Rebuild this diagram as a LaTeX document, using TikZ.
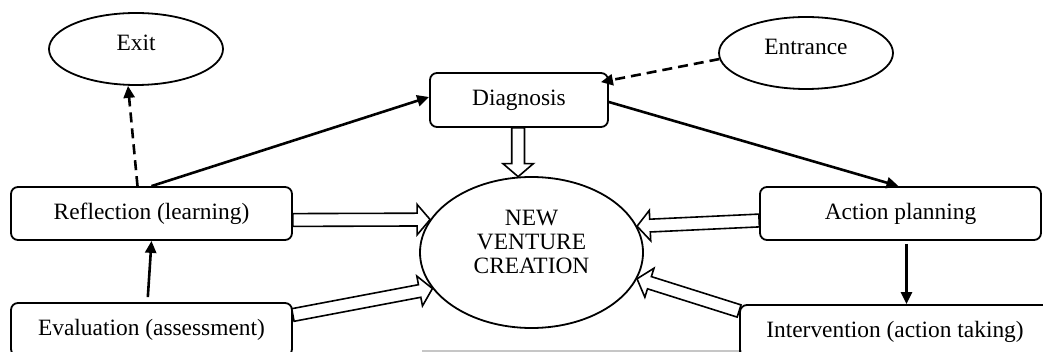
\documentclass[tikz,border=0pt]{standalone}
\usepackage{fontspec}
\setmainfont{Liberation Serif}
\usetikzlibrary{shapes.geometric,arrows.meta,calc}
\newcommand\hollowarrow[2]{%
  \coordinate (ha-a) at (#1);
  \coordinate (ha-b) at (#2);
  \coordinate (ha-h) at ($(ha-b)!6.5pt!(ha-a)$);
  \draw[hollow] ($(ha-a)!3.2pt!90:(ha-b)$) -- ($(ha-h)!3.2pt!-90:(ha-a)$)
    -- ($(ha-h)!7.6pt!-90:(ha-a)$) -- (ha-b) -- ($(ha-h)!7.6pt!90:(ha-a)$)
    -- ($(ha-h)!3.2pt!90:(ha-a)$) -- ($(ha-a)!3.2pt!-90:(ha-b)$) -- cycle;}
\tikzset{
  box/.style={draw, rounded corners=3.5pt, line width=0.9pt, minimum width=140.5pt,
    minimum height=26.5pt, inner sep=0pt},
  oval/.style={draw, ellipse, line width=0.9pt, inner sep=0pt, minimum width=87pt,
    minimum height=36pt},
  flow/.style={line width=1.3pt, -{Triangle[length=6pt,width=5.5pt]}},
  dflow/.style={flow, dash pattern=on 5pt off 3pt},
  hollow/.style={draw, line width=0.8pt, fill=white, line join=miter},
}
\begin{document}
\begin{tikzpicture}[x=0.5pt,y=-0.5pt,font=\fontsize{11.7}{12}\selectfont]
\useasboundingbox (0,0) rectangle (1043,352);
\draw[gray!45, line width=0.7pt] (422,351) -- (742,351);
\node[oval, label={[yshift=3pt]center:Exit}] (exit) at (136,49) {};
\node[oval, label={[yshift=3pt]center:Entrance}] (entr) at (806,53) {};
\node[box, minimum width=89pt, minimum height=27pt] (diag) at (519,100) {Diagnosis};
\node[box] (refl) at (151.5,213.5) {Reflection (learning)};
\node[box] (eval) at (151.5,329.5) {Evaluation (assessment)};
\node[box, minimum width=155pt] (interv) at (895,331.5) {Intervention (action taking)};
\node[box] (act) at (900.5,213.5) {Action planning};
\node[oval, minimum width=111.5pt, minimum height=75.5pt,
  label={[align=center,yshift=5.5pt]center:NEW\\VENTURE\\CREATION}] (nvc) at (531.5,252.5) {};
% thin flow arrows
\draw[flow] (refl.north) -- ([yshift=1.5pt]diag.west);
\draw[flow] ([yshift=-1pt]diag.east) -- ([xshift=-1pt]act.north);
\coordinate (a1) at ([xshift=3pt]act.south);
\draw[flow, shorten <=1.5pt] (a1) -- (a1 |- interv.north);
\draw[flow, shorten <=2.5pt] ([xshift=-2pt]eval.north) -- (refl.south);
\draw[dflow] ([xshift=-7pt]refl.north) -- ([xshift=-4pt]exit.south);
\draw[dflow] (entr.184) -- ([xshift=-4pt,yshift=-5pt]diag.north east);
% hollow block arrows
\hollowarrow{nvc.100 |- diag.south}{nvc.100}
\hollowarrow{[yshift=-3.25pt]refl.east}{nvc.162}
\hollowarrow{[yshift=-3.5pt]act.west}{nvc.14}
\hollowarrow{[yshift=7.25pt]eval.east}{nvc.200}
\hollowarrow{[yshift=10.25pt]interv.west}{nvc.346}
\end{tikzpicture}
\end{document}
